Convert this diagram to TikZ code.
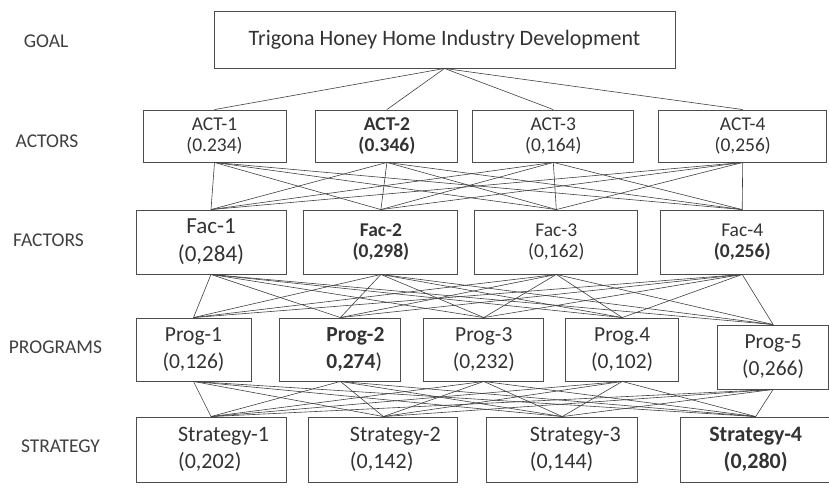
\documentclass[tikz,border=0pt]{standalone}
\usepackage{fontspec}
\setmainfont{Carlito}
\usetikzlibrary{positioning}

\tikzset{
  box/.style={draw=black!70, line width=0.9pt, inner sep=0pt, align=center, text=black!80},
  link/.style={draw=black!75, line width=0.6pt},
  level/.style={text=black!75, font=\fontsize{19.5}{23}\selectfont},
  actbox/.style={box, minimum height=52pt, font=\fontsize{19.5}{21}\selectfont},
  facbox/.style={box, minimum height=64pt, font=\fontsize{19.5}{21}\selectfont},
  progbox/.style={box, minimum height=63pt, font=\fontsize{21.5}{27}\selectfont},
  stratbox/.style={box, minimum height=65pt, align=left, font=\fontsize{22}{27}\selectfont},
}
\newcommand{\pad}[1]{\hspace*{#1}}

\begin{document}
\begin{tikzpicture}[x=1pt, y=-1pt]
    \useasboundingbox (0,0) rectangle (829,493);

    % level names
    \node[level] (lgoal) at (46,41) {GOAL};
    \node[level] (lact) at (47,141) {ACTORS};
    \node[level] (lfac) at (48.5,240) {FACTORS};
    \node[level] (lprog) at (55.5,347) {PROGRAMS};
    \node[level] (lstrat) at (60.5,446) {STRATEGY};

    \node[box, minimum width=461pt, minimum height=57pt, font=\fontsize{22}{26}\selectfont] (goal) at (444.5,39.5) {Trigona Honey Home Industry Development};

    % actors
    \node[actbox, minimum width=143pt] (act1) at (214.5,136) {ACT-1\\(0.234)};
    \node[actbox, minimum width=142pt, right=29pt of act1] (act2) {\textbf{ACT-2}\\\textbf{(0.346)}};
    \node[actbox, minimum width=161pt, right=14pt of act2] (act3) {ACT-3\\(0,164)};
    \node[actbox, minimum width=168pt, right=24pt of act3] (act4) {ACT-4\\(0,256)};

    % factors
    \node[facbox, minimum width=150pt, font=\fontsize{23}{28}\selectfont] (fac1) at (211,242) {Fac-1\\(0,284)};
    \node[facbox, minimum width=154pt, right=17pt of fac1] (fac2) {\textbf{Fac-2}\\\textbf{(0,298)}};
    \node[facbox, minimum width=163pt, right=16pt of fac2] (fac3) {Fac-3\\(0,162)};
    \node[facbox, minimum width=163pt, right=22pt of fac3] (fac4) {Fac-4\\\textbf{(0,256)}};

    % programs
    \node[progbox, minimum width=115pt] (prog1) at (193.5,349.5) {Prog-1\\(0,126)};
    \node[progbox, minimum width=121pt, align=left, right=28pt of prog1] (prog2) {\pad{30pt}\textbf{Prog-2}\\\pad{30pt}\textbf{0,274})};
    \node[progbox, minimum width=120pt, right=22pt of prog2] (prog3) {Prog-3\\(0,232)};
    \node[progbox, minimum width=113pt, right=21pt of prog3] (prog4) {Prog.4\\(0,102)};
    \node[progbox, minimum width=111pt, minimum height=64pt, right=38pt of prog4, yshift=-7.5pt] (prog5) {Prog-5\\(0,266)};

    % strategies
    \node[stratbox, minimum width=150pt] (str1) at (211,449.5) {\pad{25pt}Strategy-1\\\pad{25pt}(0,202)};
    \node[stratbox, minimum width=149pt, right=22pt of str1] (str2) {\pad{24pt}Strategy-2\\\pad{24pt}(0,142)};
    \node[stratbox, minimum width=151pt, right=28pt of str2] (str3) {\pad{26pt}Strategy-3\\\pad{26pt}(0,144)};
    \node[stratbox, minimum width=150pt, align=center, right=42pt of str3] (str4) {\textbf{Strategy-4}\\\textbf{(0,280)}};

    % links between levels
    \foreach \a in {act1,act2,act3,act4}
        \draw[link] (goal.south) -- (\a.north);
    \foreach \a in {act1,act2,act3,act4}
        \foreach \f in {fac1,fac2,fac3,fac4}
            \draw[link] (\a.south) -- (\f.north);
    \foreach \f in {fac1,fac2,fac3,fac4}
        \foreach \p in {prog1,prog2,prog3,prog4,prog5}
            \draw[link] (\f.south) -- (\p.north);
    \foreach \p in {prog1,prog2,prog3,prog4,prog5}
        \foreach \s in {str1,str2,str3,str4}
            \draw[link] (\p.south) -- (\s.north);
\end{tikzpicture}
\end{document}
